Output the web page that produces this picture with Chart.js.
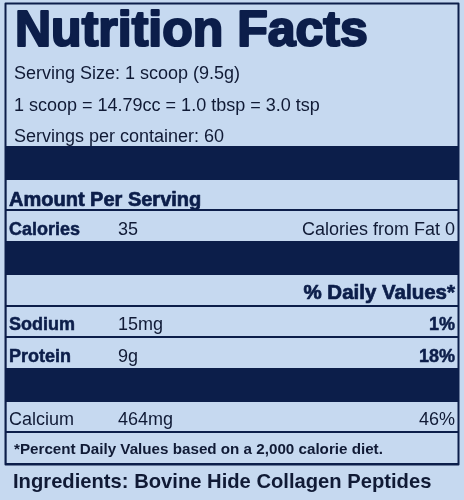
<!DOCTYPE html>
<html>
<head>
<meta charset="utf-8">
<script src="https://cdn.jsdelivr.net/npm/chart.js@4.4.0/dist/chart.umd.min.js"></script>
<style>
  html, body { margin: 0; padding: 0; background: #c6d9f0; }
  canvas { display: block; }
</style>
</head>
<body>
<canvas id="rotulo" width="464" height="500"></canvas>
<script>
// linhas da tabela (categorias do eixo y)
const linhas = ['faixa1', 'porcao', 'calorias', 'faixa2', 'vd', 'sodio', 'proteina', 'faixa3', 'calcio', 'nota'];
// 1 = faixa escura, 0 = linha clara
const faixas = [1, 0, 0, 1, 0, 0, 0, 1, 0, 0];

const cabecalho = ['Serving Size: 1 scoop (9.5g)', '1 scoop = 14.79cc = 1.0 tbsp = 3.0 tsp', 'Servings per container: 60'];
const calorias = 35;
const caloriasGordura = 0;
const nutrientes = ['Sodium', 'Protein', 'Calcium'];
const quantidades = ['15mg', '9g', '464mg'];
const valoresDiarios = [1, 18, 46];
const negrito = [true, true, false];

const AZUL = '#0c1e4a';
const TEXTO = '#101a35';
const FONTE = '"Liberation Sans", Arial, sans-serif';

const textoRotulo = {
    id: 'textoRotulo',
    afterDraw(chart) {
        const { ctx, chartArea, scales } = chart;
        const y = scales.y;
        const esq = chartArea.left + 3;
        const col2 = 118;
        const dir = chartArea.right - 3;

        function escrever(txt, x, yy, fonte, alinhar, cor, traco) {
            ctx.font = fonte;
            ctx.textAlign = alinhar || 'left';
            ctx.textBaseline = 'alphabetic';
            ctx.fillStyle = cor || TEXTO;
            ctx.fillText(txt, x, yy);
            if (traco) {
                ctx.lineWidth = traco;
                ctx.strokeStyle = cor || TEXTO;
                ctx.lineJoin = 'round';
                ctx.strokeText(txt, x, yy);
            }
        }
        const centro = i => y.getPixelForValue(i);

        ctx.save();
        // titulo e cabecalho
        escrever('Nutrition Facts', 15, 46, 'bold 50px ' + FONTE, 'left', AZUL, 2.2);
        [79, 111, 142].forEach((b, i) => escrever(cabecalho[i], 14, b, '18px ' + FONTE));

        // linhas da tabela
        escrever('Amount Per Serving', esq, centro(1) + 11, 'bold 20px ' + FONTE, 'left', AZUL, 0.7);
        escrever('Calories', esq, centro(2) + 9, 'bold 18px ' + FONTE, 'left', AZUL, 0.5);
        escrever(String(calorias), col2, centro(2) + 9, '18px ' + FONTE);
        escrever('Calories from Fat ' + caloriasGordura, dir, centro(2) + 9, '18px ' + FONTE, 'right');
        escrever('% Daily Values*', dir, centro(4) + 9, 'bold 20.5px ' + FONTE, 'right', AZUL, 0.7);

        [5, 6, 8].forEach((idx, i) => {
            const f = negrito[i] ? 'bold 18px ' : '18px ';
            const t = negrito[i] ? 0.5 : 0;
            escrever(nutrientes[i], esq, centro(idx) + 9, f + FONTE, 'left', negrito[i] ? AZUL : TEXTO, t);
            escrever(quantidades[i], col2, centro(idx) + 9, '18px ' + FONTE);
            escrever(valoresDiarios[i] + '%', dir, centro(idx) + 9, f + FONTE, 'right', negrito[i] ? AZUL : TEXTO, t);
        });

        escrever('*Percent Daily Values based on a 2,000 calorie diet.', 14, centro(9) + 6, 'bold 15.2px ' + FONTE);

        // moldura
        ctx.lineWidth = 2;
        ctx.strokeStyle = AZUL;
        ctx.strokeRect(chartArea.left - 0.5, 3.5, chartArea.right - chartArea.left + 1, chartArea.bottom - 3);

        escrever('Ingredients: Bovine Hide Collagen Peptides', 13, 488, 'bold 20.2px ' + FONTE);
        ctx.restore();
    }
};

new Chart(document.getElementById('rotulo'), {
    type: 'bar',
    data: {
        labels: linhas,
        datasets: [{
            data: faixas,
            backgroundColor: AZUL,
            borderWidth: 0,
            barPercentage: 1,
            categoryPercentage: 1
        }]
    },
    options: {
        indexAxis: 'y',
        responsive: false,
        animation: false,
        layout: { padding: { left: 6, right: 6, top: 147, bottom: 36 } },
        plugins: { legend: { display: false }, tooltip: { enabled: false } },
        scales: {
            x: { display: false, min: 0, max: 1 },
            y: {
                display: true,
                afterFit: s => { s.width = 0; },
                ticks: { display: false },
                border: { display: false },
                grid: { offset: true, color: AZUL, lineWidth: 2, drawTicks: false }
            }
        }
    },
    plugins: [textoRotulo]
});
</script>
</body>
</html>
